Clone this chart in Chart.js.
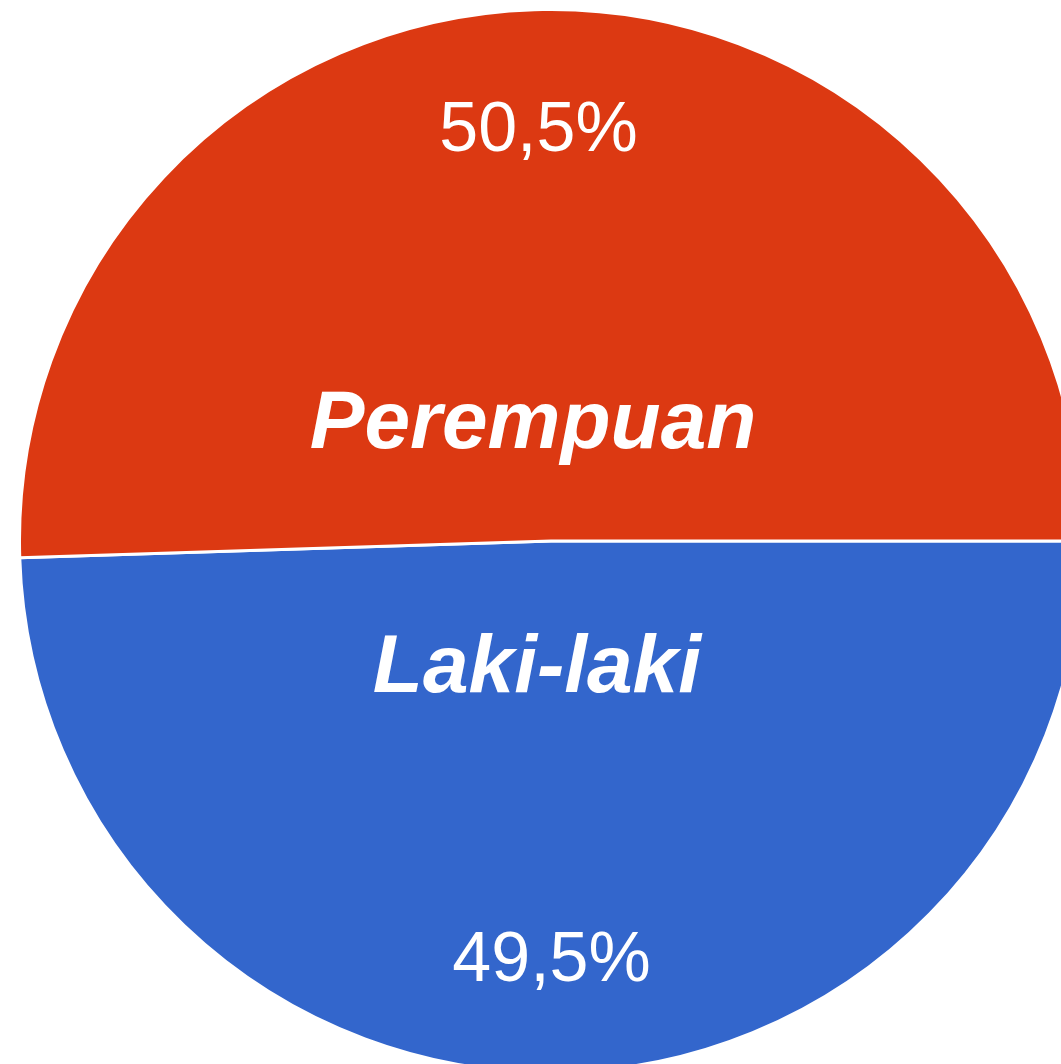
<!DOCTYPE html>
<html>
<head>
<meta charset="utf-8">
<script src="https://cdn.jsdelivr.net/npm/chart.js@4"></script>
<style>
  html, body { margin: 0; padding: 0; background: #fff; overflow: hidden; }
  body { width: 1061px; height: 1064px; position: relative; }
  #wrap { position: absolute; left: 18px; top: 8px; width: 1066px; height: 1066px; }
</style>
</head>
<body>
<div id="wrap"><canvas id="chartGender" width="1066" height="1066"></canvas></div>
<script>
const categories = ['Laki-laki', 'Perempuan'];
const percentages = [49.5, 50.5];
const sliceColors = ['#3366CC', '#DC3912'];

// texts inside the slices: name near the centre, percentage near the rim
const sliceLabels = {
  id: 'sliceLabels',
  afterDatasetsDraw(chart) {
    const ctx = chart.ctx;
    const meta = chart.getDatasetMeta(0);
    meta.data.forEach((arc, i) => {
      const p = arc.getProps(['x', 'y', 'startAngle', 'endAngle', 'outerRadius'], true);
      const mid = (p.startAngle + p.endAngle) / 2;
      const r = p.outerRadius;
      ctx.save();
      ctx.fillStyle = '#ffffff';
      ctx.textAlign = 'center';
      ctx.textBaseline = 'alphabetic';

      const pct = percentages[i].toFixed(1).replace('.', ',') + '%';
      ctx.font = '70px "Liberation Sans", Arial, sans-serif';
      ctx.fillText(pct, p.x - 6 + Math.cos(mid) * r * 0.78, p.y + Math.sin(mid) * r * 0.78 + 25);

      ctx.font = 'italic bold 82px "Liberation Sans", Arial, sans-serif';
      ctx.fillText(categories[i], p.x - 16 + Math.cos(mid) * r * 0.23, p.y + Math.sin(mid) * r * 0.23 + 29);
      ctx.restore();
    });
  }
};

const ctxGender = document.getElementById('chartGender');

new Chart(ctxGender, {
  type: 'pie',
  data: {
    labels: categories,
    datasets: [{
      data: percentages,
      backgroundColor: sliceColors,
      borderColor: '#ffffff',
      borderWidth: 3
    }]
  },
  options: {
    responsive: false,
    animation: false,
    rotation: 90,
    layout: { padding: 0 },
    plugins: {
      legend: { display: false },
      tooltip: { enabled: false }
    }
  },
  plugins: [sliceLabels]
});
</script>
</body>
</html>
